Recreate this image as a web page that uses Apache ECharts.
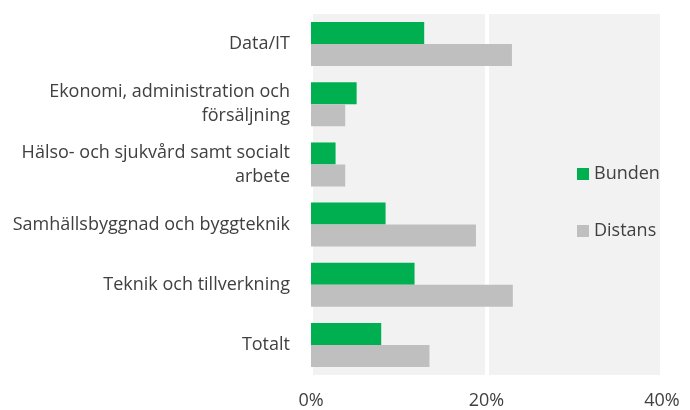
<!DOCTYPE html>
<html lang="sv">
<head>
    <meta charset="UTF-8">
    <title>Bunden och distans</title>
    <style>
        body { margin: 0; background: #fff; }
    </style>
</head>
<body>
<div id="main" style="width: 690px;height:410px;"></div>
<script src="https://cdn.jsdelivr.net/npm/echarts@6/dist/echarts.min.js"></script>
<script type="text/javascript">
    var categories = [
        "Data/IT",
        "Ekonomi, administration och\nförsäljning",
        "Hälso- och sjukvård samt socialt\narbete",
        "Samhällsbyggnad och byggteknik",
        "Teknik och tillverkning",
        "Totalt"
    ];
    var bunden = [12.9, 5.2, 2.8, 8.5, 11.8, 8.0];
    var distans = [22.9, 3.9, 3.9, 18.8, 23.0, 13.5];
    var xTicks = [0, 20, 40];

    var myChart = echarts.init(document.getElementById("main"));
    var font = "'Open Sans', 'Noto Sans', sans-serif";

    var option = {
        animation: false,
        textStyle: { fontFamily: font },
        grid: {
            left: 311,
            right: 28,
            top: 14,
            bottom: 34,
            show: true,
            backgroundColor: "#f2f2f2",
            borderWidth: 0
        },
        legend: {
            orient: "vertical",
            left: 572,
            top: 160,
            itemWidth: 12,
            itemHeight: 12,
            itemGap: 39,
            icon: "rect",
            textStyle: { fontSize: 18, color: "#404040", fontFamily: font },
            data: ["Bunden", "Distans"]
        },
        xAxis: {
            type: "value",
            min: xTicks[0],
            max: xTicks[xTicks.length - 1],
            interval: 20,
            axisLine: { show: false },
            axisTick: { show: false },
            axisLabel: {
                margin: 17,
                fontSize: 18,
                color: "#404040",
                formatter: "{value}%"
            },
            splitLine: { lineStyle: { color: "#ffffff", width: 4 } }
        },
        yAxis: {
            type: "category",
            inverse: true,
            data: categories,
            axisLine: { show: false },
            axisTick: { show: false },
            axisLabel: {
                margin: 21,
                fontSize: 18,
                lineHeight: 24,
                color: "#404040"
            }
        },
        series: [
            {
                name: "Bunden",
                type: "bar",
                data: bunden,
                barGap: "0%",
                barCategoryGap: "27%",
                itemStyle: { color: "#00b050" }
            },
            {
                name: "Distans",
                type: "bar",
                data: distans,
                itemStyle: { color: "#bfbfbf" }
            }
        ]
    };

    myChart.setOption(option);
</script>
</body>
</html>
